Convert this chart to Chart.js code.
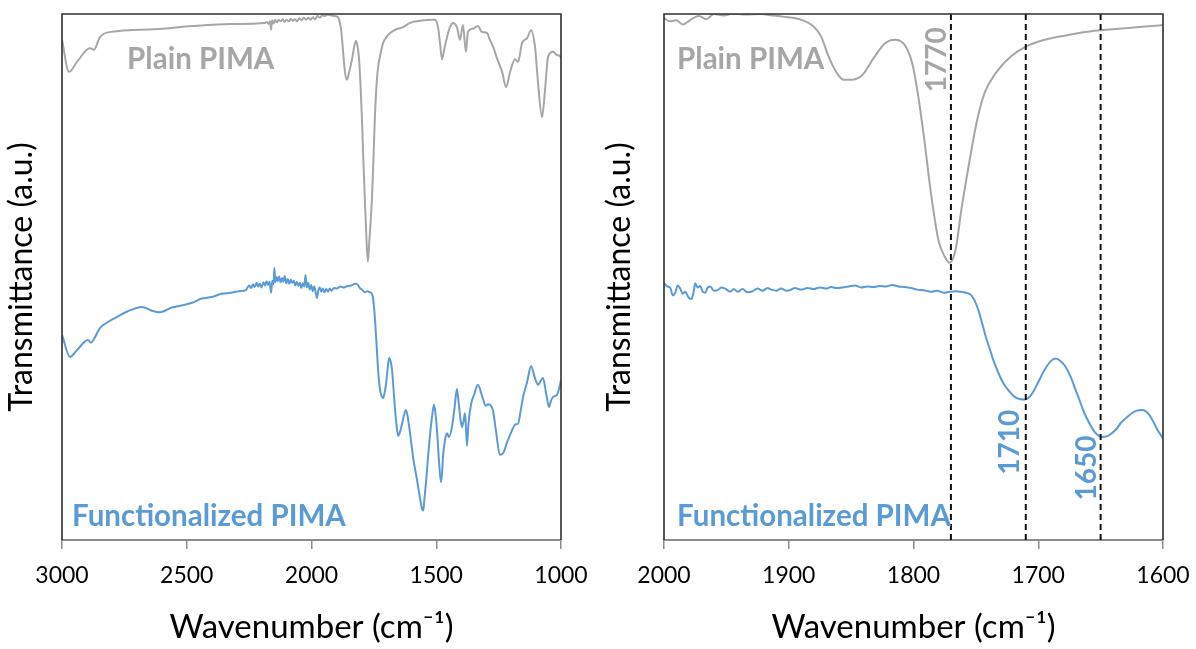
<!DOCTYPE html>
<html><head><meta charset="utf-8">
<script src="https://cdn.jsdelivr.net/npm/chart.js@4"></script>
<style>
html,body{margin:0;padding:0;background:#fff;}
#wrap{position:relative;width:1196px;height:649px;overflow:hidden;}
.c{position:absolute;top:0;width:598px;height:649px;}
</style></head><body>
<div id="wrap">
<div class="c" style="left:0"><canvas id="c1"></canvas></div>
<div class="c" style="left:598px"><canvas id="c2"></canvas></div>
</div>
<script>
// ---------- DATA ----------
const wideTicks = [3000, 2500, 2000, 1500, 1000];
const zoomTicks = [2000, 1900, 1800, 1700, 1600];
const seriesNames = ['Plain PIMA', 'Functionalized PIMA'];
const peakLabels = ['1770', '1710', '1650'];
const peakWn = [1770, 1710, 1650];

const plainWideWn = [3000,2972,2940,2888,2872,2848,2804,2631,2479,2323,2186,2178,2172,2166,2162,2158,2152,2146,2139,2132,2124,2115,2108,2100,2091,2083,2075,2066,2058,2049,2040,2031,2022,2012,2004,1995,1986,1976,1966,1956,1946,1938,1920,1905,1894,1886,1880,1874,1866,1858,1850,1838,1830,1822,1816,1810,1804,1798,1792,1786,1780,1774,1768,1758,1752,1746,1740,1733,1723,1713,1700,1685,1660,1633,1605,1565,1513,1505,1493,1485,1477,1467,1457,1445,1433,1417,1405,1393,1381,1373,1353,1333,1317,1297,1285,1270,1257,1236,1220,1204,1184,1172,1156,1136,1120,1104,1092,1076,1064,1052,1032,1016,1004,1000];
const plainWideT = [95.1,89.0,90.9,93.5,93.2,95.6,96.6,97.1,97.7,98.1,98.3,98.5,98.1,98.6,97.0,98.8,98.2,98.9,98.4,98.9,98.6,99.0,98.5,98.9,98.6,99.1,98.7,99.0,98.6,99.2,98.8,99.3,98.9,99.3,98.9,99.4,99.0,99.6,99.3,99.8,99.6,99.9,99.7,99.6,99.4,98.3,96.5,93.2,89.0,87.5,88.8,91.3,93.5,94.9,94.0,91.8,87.0,80.4,72.0,64.6,57.5,52.9,57.0,64.6,72.0,80.4,86.0,89.9,92.5,94.5,95.6,96.4,97.1,97.5,98.3,98.7,98.9,98.9,97.5,94.5,91.4,93.5,95.6,97.5,98.3,97.5,95.1,97.9,92.8,96.6,97.2,97.7,96.6,96.4,95.1,93.5,91.6,89.0,86.1,89.0,91.4,90.9,94.5,95.4,96.9,93.7,86.9,80.4,85.6,91.8,92.8,92.2,92.0,91.6];

const funcWideWn = [3000,2968,2940,2896,2884,2872,2848,2820,2788,2740,2679,2640,2607,2560,2520,2479,2440,2400,2360,2323,2290,2263,2250,2242,2235,2228,2220,2214,2207,2200,2193,2186,2180,2174,2168,2162,2157,2152,2149,2145,2140,2135,2130,2124,2118,2113,2107,2101,2095,2089,2083,2077,2071,2065,2059,2053,2047,2041,2035,2029,2024,2019,2013,2007,2001,1995,1989,1983,1978,1973,1967,1961,1955,1948,1941,1934,1927,1920,1910,1898,1885,1870,1855,1840,1825,1814,1806,1795,1786,1776,1766,1758,1754,1748,1741,1733,1726,1721,1713,1707,1701,1695,1689,1683,1677,1671,1665,1659,1653,1645,1637,1629,1621,1613,1605,1599,1593,1585,1577,1567,1557,1552,1549,1541,1533,1525,1517,1509,1503,1497,1489,1481,1477,1473,1465,1457,1449,1437,1427,1417,1410,1403,1397,1391,1385,1381,1377,1371,1361,1347,1333,1317,1301,1293,1285,1273,1260,1245,1232,1216,1204,1192,1182,1172,1162,1152,1136,1120,1106,1092,1082,1072,1060,1048,1040,1032,1016,1004,1000];
const funcWideT = [39.0,34.8,36.1,38.0,37.5,38.2,40.3,41.3,42.2,43.4,44.3,43.6,43.3,44.2,44.6,45.1,45.9,46.2,46.8,47.0,47.3,47.5,48.4,47.9,48.6,48.1,48.9,48.2,48.7,48.0,49.0,48.4,49.2,48.5,49.1,47.0,49.3,48.6,51.7,49.0,50.0,49.2,50.1,49.0,49.8,49.1,50.2,48.8,49.6,48.7,49.5,48.9,49.3,48.4,49.1,48.3,48.9,47.9,48.8,48.2,50.4,48.0,48.9,47.6,48.5,47.3,48.2,47.0,46.0,47.4,48.0,47.2,47.8,47.1,47.7,47.2,47.8,47.4,47.9,47.8,48.2,48.0,48.3,48.4,48.7,48.5,47.9,47.5,47.1,47.3,47.1,46.8,46.2,43.5,38.6,32.3,28.8,27.6,27.0,28.0,29.8,32.5,34.6,34.0,32.3,28.5,24.7,21.8,19.8,20.6,22.1,23.8,24.7,23.0,20.3,18.0,15.8,13.5,11.4,8.5,5.9,5.6,7.0,11.0,15.8,20.0,23.4,25.7,24.0,20.9,15.0,11.0,12.5,15.8,19.0,20.3,19.6,21.5,25.0,28.7,26.0,23.0,21.5,22.5,24.1,21.5,17.9,22.0,25.7,27.8,29.5,27.5,25.5,25.8,25.7,24.7,20.5,16.2,16.5,18.6,20.0,21.3,22.0,22.1,24.5,27.2,30.0,33.1,31.0,29.5,30.2,30.8,28.0,25.3,26.5,27.2,27.6,29.5,30.5];

const plainZoomWn = [2000,1995,1990,1985,1981,1976,1972,1966,1960,1952,1945,1935,1923,1912,1905,1890,1880,1874,1868,1862,1856,1850,1841,1832,1823,1815,1807,1801,1797,1792,1786,1780,1775,1771,1766,1762,1755,1749,1743,1734,1722,1710,1695,1676,1655,1630,1609,1600];
const plainZoomT = [99.2,98.6,98.8,98.0,98.5,99.3,99.6,99.0,100,99.7,100.1,99.9,100,99.7,99.5,98.9,97.6,95.7,91.9,89.0,87.5,87.5,88.4,91.6,94.4,95.1,94.1,90.6,85.6,77.3,65.9,57.0,53.9,52.7,55.5,62.2,72.2,79.8,85.0,88.8,91.9,93.8,95.1,96.0,96.8,97.3,97.7,97.9];

const funcZoomWn = [2000,1997,1995,1993,1991,1989,1987,1985,1983,1980,1978,1976,1975,1973,1971,1969,1967,1965,1963,1960,1957,1954,1951,1947,1944,1941,1937,1933,1929,1925,1921,1917,1914,1910,1906,1902,1899,1895,1890,1885,1880,1875,1870,1866,1862,1857,1852,1847,1842,1837,1832,1827,1822,1817,1812,1807,1802,1797,1792,1786,1781,1776,1771,1766,1762,1758,1754,1751,1748,1745,1742,1739,1736,1732,1728,1723,1719,1715,1711,1707,1704,1700,1695,1690,1686,1682,1678,1674,1670,1666,1663,1659,1655,1652,1649,1645,1641,1637,1634,1629,1625,1621,1617,1614,1611,1608,1605,1602,1600];
const funcZoomT = [48.8,48.2,48.0,46.5,47.0,48.4,47.8,46.8,47.2,46.0,45.8,47.5,48.8,48.0,48.3,47.2,47.0,48.0,48.2,47.4,47.5,48.0,47.8,47.2,47.7,47.2,47.7,47.1,47.3,47.8,47.4,47.9,47.6,47.4,47.8,47.4,47.5,47.9,47.6,47.9,47.7,48.0,47.8,48.1,47.9,48.0,48.2,48.4,48.0,48.2,48.1,48.3,48.2,48.5,48.2,48.1,47.9,47.6,47.5,47.2,47.4,47.0,47.2,47.3,47.2,47.0,46.6,45.5,43.7,41.2,38.6,36.4,34.2,31.8,29.8,28.2,27.2,26.8,26.7,27.2,28.2,30.0,32.3,34.0,34.5,34.0,32.9,31.0,28.5,26.0,24.1,22.2,20.6,19.9,19.6,19.7,20.3,21.2,22.2,23.3,24.1,24.6,24.7,24.5,23.8,22.6,21.2,20.0,19.3];

// ---------- STYLE ----------
const GRAY = '#a6a6a6';
const BLUE = '#5b9bd5';
Chart.defaults.font.family = 'Lato, "Open Sans", sans-serif';

function pts(xs, ys) { return xs.map((x, i) => ({ x: x, y: ys[i] })); }

const framePlugin = {
  id: 'frame',
  afterDraw(chart) {
    const a = chart.chartArea, c = chart.ctx;
    c.save();
    c.strokeStyle = '#2f2f2f'; c.lineWidth = 1.6;
    c.beginPath();
    c.moveTo(a.left, a.bottom); c.lineTo(a.left, a.top);
    c.lineTo(a.right, a.top); c.lineTo(a.right, a.bottom);
    c.stroke();
    c.restore();
  }
};

const annotPlugin = {
  id: 'annot',
  afterDatasetsDraw(chart, args, opts) {
    const c = chart.ctx, xs = chart.scales.x, ys = chart.scales.y, a = chart.chartArea;
    c.save();
    (opts.lines || []).forEach(wn => {
      const px = xs.getPixelForValue(wn);
      c.strokeStyle = '#111'; c.lineWidth = 2; c.setLineDash([6, 4]);
      c.beginPath(); c.moveTo(px, a.top); c.lineTo(px, a.bottom); c.stroke();
    });
    c.setLineDash([]);
    (opts.texts || []).forEach(t => {
      const px = xs.getPixelForValue(t.x), py = ys.getPixelForValue(t.y);
      c.save();
      c.translate(px, py);
      if (t.rot) c.rotate(-Math.PI / 2);
      c.fillStyle = t.color;
      c.font = 'bold ' + t.size + 'px Lato, "Open Sans", sans-serif';
      c.textAlign = t.align; c.textBaseline = 'middle';
      c.fillText(t.text, 0, 0);
      c.restore();
    });
    c.restore();
  }
};

function makeChart(id, cfg) {
  return new Chart(document.getElementById(id), {
    type: 'line',
    data: {
      datasets: [
        { label: seriesNames[0], data: pts(cfg.pw, cfg.pt), borderColor: GRAY, borderWidth: 2, pointRadius: 0, cubicInterpolationMode: 'monotone' },
        { label: seriesNames[1], data: pts(cfg.fw, cfg.ft), borderColor: BLUE, borderWidth: 2, pointRadius: 0, cubicInterpolationMode: 'monotone' }
      ]
    },
    options: {
      responsive: true, maintainAspectRatio: false, animation: false,
      layout: { padding: { left: 0, right: cfg.padR, top: 14, bottom: 0 } },
      plugins: { legend: { display: false }, tooltip: { enabled: false },
        annot: { lines: cfg.lines, texts: cfg.texts } },
      scales: {
        x: {
          type: 'linear', reverse: true, min: cfg.min, max: cfg.max,
          afterBuildTicks: s => { s.ticks = cfg.ticks.map(v => ({ value: v })); },
          afterFit: s => { s.height = 109; s.paddingLeft = 0; s.paddingRight = 0; },
          ticks: { color: '#000', font: { size: 23 }, padding: 13, maxRotation: 0, autoSkip: false, callback: v => String(v) },
          grid: { display: true, drawOnChartArea: false, drawTicks: true, tickLength: 9, color: '#8c8c8c', lineWidth: 1.5 },
          border: { display: true, color: '#8c8c8c', width: 2 },
          title: { display: true, text: 'Wavenumber (cm\u207B\u00B9)', color: '#000', font: { size: 33 }, padding: { top: 0, bottom: 2 } }
        },
        y: {
          type: 'linear', min: 0, max: 100,
          afterFit: s => { s.width = cfg.padL; },
          ticks: { display: false },
          grid: { display: false },
          border: { display: false },
          title: { display: true, text: 'Transmittance (a.u.)', color: '#000', font: { size: 32 }, padding: { top: 2, bottom: 0 } }
        }
      }
    },
    plugins: [framePlugin, annotPlugin]
  });
}

makeChart('c1', {
  pw: plainWideWn, pt: plainWideT, fw: funcWideWn, ft: funcWideT,
  min: 1000, max: 3000, ticks: wideTicks, padL: 62, padR: 37, lines: [],
  texts: [
    { text: seriesNames[0], x: 2739, y: 91.3, color: GRAY, size: 29.5, align: 'left' },
    { text: seriesNames[1], x: 2960, y: 4.4, color: BLUE, size: 29.5, align: 'left' }
  ]
});

makeChart('c2', {
  pw: plainZoomWn, pt: plainZoomT, fw: funcZoomWn, ft: funcZoomT,
  min: 1600, max: 2000, ticks: zoomTicks, padL: 66, padR: 33, lines: peakWn,
  texts: [
    { text: seriesNames[0], x: 1989.5, y: 91.3, color: GRAY, size: 29.5, align: 'left' },
    { text: seriesNames[1], x: 1989.5, y: 4.4, color: BLUE, size: 29.5, align: 'left' },
    { text: peakLabels[0], x: 1781, y: 91.3, color: GRAY, size: 28, align: 'center', rot: true },
    { text: peakLabels[1], x: 1722.6, y: 18.6, color: BLUE, size: 28, align: 'center', rot: true },
    { text: peakLabels[2], x: 1661, y: 13.7, color: BLUE, size: 28, align: 'center', rot: true }
  ]
});
</script>
</body></html>
